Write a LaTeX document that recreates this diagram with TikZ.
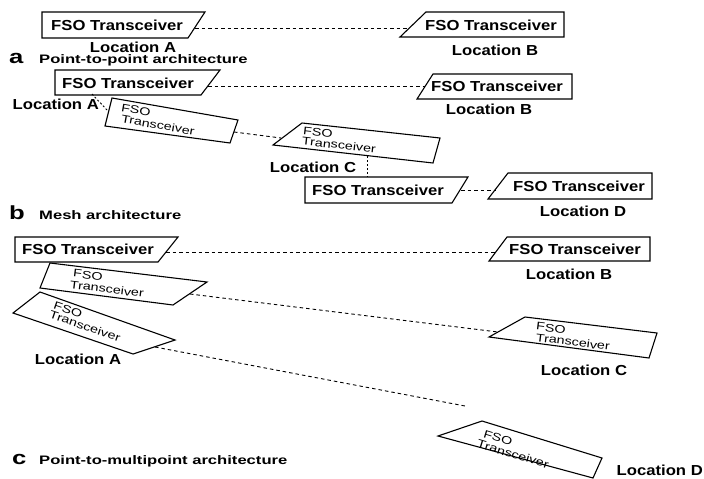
\documentclass[tikz,border=0pt]{standalone}
\usepackage{fontspec}
\setmainfont{Liberation Sans}[FakeStretch=1.15]
\newfontfamily\titlefam{Liberation Sans}[FakeStretch=1.35]
\newfontfamily\rotfam{Liberation Sans}[FakeStretch=1.3]
\begin{document}
\begin{tikzpicture}[x=1pt,y=-1pt,
  box/.style={draw=black, line width=1.1pt, line join=miter},
  link/.style={draw=black, line width=0.9pt, dash pattern=on 3.5pt off 3pt},
  dotlink/.style={draw=black, line width=0.9pt, dash pattern=on 2pt off 2pt},
  boxtext/.style={font=\fontsize{14.5}{16}\selectfont\bfseries, inner sep=0pt},
  loc/.style={font=\fontsize{14.5}{16}\selectfont\bfseries, inner sep=0pt},
  rottext/.style={font=\rotfam\fontsize{11}{13}\selectfont, inner sep=0pt},
  letter/.style={font=\titlefam\fontsize{19}{20}\selectfont\bfseries, inner sep=0pt, anchor=base west},
  title/.style={font=\titlefam\fontsize{12.3}{14}\selectfont\bfseries, inner sep=0pt, anchor=base west}]
\useasboundingbox[fill=white] (0,0) rectangle (704,479);

% ---------------- panel a ----------------
\draw[box] (42,12) -- (205,12) -- (188,38) -- (42,38) -- cycle;
\node[boxtext] (aAt) at (117,25) {FSO Transceiver};
\draw[box] (426,12) -- (564,12) -- (564,37) -- (400,37) -- cycle;
\node[boxtext] (aBt) at (491,25) {FSO Transceiver};
\coordinate (aAr) at (195,28);
\coordinate (aBl) at (409,28);
\draw[link] (aAr) -- (aBl);
\node[loc] (aLA) at (133,47) {Location A};
\node[loc] (aLB) at (495,50) {Location B};
\node[letter] (aL) at (9,63) {a};
\node[title] (aT) at (39,63) {Point-to-point architecture};

% ---------------- panel b ----------------
\draw[box] (55,70) -- (220,70) -- (201,95) -- (55,95) -- cycle;
\node[boxtext] (bAt) at (128,83) {FSO Transceiver};
\draw[box] (433,74) -- (572,74) -- (572,99) -- (417,99) -- cycle;
\node[boxtext] (bBt) at (497,86) {FSO Transceiver};
\coordinate (bAr) at (208,86);
\coordinate (bBl) at (425,86);
\draw[link] (bAr) -- (bBl);
\node[loc] (bLB) at (489,109) {Location B};
\node[loc, anchor=east] (bLA) at (99,104) {Location A};

% rotated A'
\draw[box] (112,98) -- (238,120) -- (230,143) -- (105,126) -- cycle;
\node[rottext, rotate=-10] (bApt1) at (136,110) {FSO};
\node[rottext, rotate=-10] (bApt2) at (158,125) {Transceiver};
\coordinate (bAb) at (92,94);
\coordinate (bApl) at (107,110);
\draw[dotlink] (bAb) -- (bApl);

% C
\draw[box] (302,123) -- (440,138) -- (433,163) -- (273,145) -- cycle;
\node[rottext, rotate=-6.5] (bCt1) at (318,132) {FSO};
\node[rottext, rotate=-6.5] (bCt2) at (339,145) {Transceiver};
\coordinate (bApr) at (234,132);
\coordinate (bCl) at (281,138);
\draw[link] (bApr) -- (bCl);
\node[loc] (bLC) at (313,167) {Location C};

% D1 and D2
\draw[box] (305,177) -- (468,177) -- (452,203) -- (305,203) -- cycle;
\node[boxtext] (bD1t) at (378,190) {FSO Transceiver};
\draw[box] (508,173) -- (652,173) -- (652,199) -- (488,199) -- cycle;
\node[boxtext] (bD2t) at (579,186) {FSO Transceiver};
\coordinate (bCb) at (367,156);
\coordinate (bD1top) at (367,177);
\draw[dotlink] (bCb) -- (bD1top);
\coordinate (bD1r) at (461,190);
\coordinate (bD2l) at (496,190);
\draw[link] (bD1r) -- (bD2l);
\node[loc] (bLD) at (583,211) {Location D};
\node[letter] (bL) at (9,219) {b};
\node[title] (bT) at (39,219) {Mesh architecture};

% ---------------- panel c ----------------
\draw[box] (15,237) -- (178,237) -- (158,262) -- (15,262) -- cycle;
\node[boxtext] (cA1t) at (88,249) {FSO Transceiver};
\draw[box] (507,237) -- (650,237) -- (650,261) -- (489,261) -- cycle;
\node[boxtext] (cBt) at (575,249) {FSO Transceiver};
\coordinate (cA1r) at (166,252);
\coordinate (cBl) at (496,252);
\draw[link] (cA1r) -- (cBl);
\node[loc] (cLB) at (569,274) {Location B};

% A2 -> C
\draw[box] (50,263) -- (207,282) -- (173,305) -- (40,288) -- cycle;
\node[rottext, rotate=-7] (cA2t1) at (88,275) {FSO};
\node[rottext, rotate=-7] (cA2t2) at (107,289) {Transceiver};
\draw[box] (525,317) -- (657,333) -- (649,358) -- (489,337) -- cycle;
\node[rottext, rotate=-7] (cCt1) at (551,328) {FSO};
\node[rottext, rotate=-7] (cCt2) at (573,342) {Transceiver};
\coordinate (cA2r) at (190,294);
\coordinate (cCl) at (498,332);
\draw[link] (cA2r) -- (cCl);
\node[loc] (cLC) at (584,370) {Location C};

% A3 -> D
\draw[box] (40,292) -- (175,340) -- (133,354) -- (13,313) -- cycle;
\node[rottext, rotate=-19] (cA3t1) at (68,310) {FSO};
\node[rottext, rotate=-19] (cA3t2) at (85,326) {Transceiver};
\node[loc] (cLA) at (78,359) {Location A};
\draw[box] (482,421) -- (602,458) -- (593,478) -- (438,436) -- cycle;
\node[rottext, rotate=-17] (cDt1) at (498,438) {FSO};
\node[rottext, rotate=-17] (cDt2) at (513,454) {Transceiver};
\coordinate (cA3r) at (155,347);
\coordinate (cDend) at (465,406);
\draw[link] (cA3r) -- (cDend);
\node[loc, anchor=east] (cLD) at (703,470) {Location D};
\node[letter] (cL) at (12,464) {c};
\node[title] (cT) at (39,464) {Point-to-multipoint architecture};
\end{tikzpicture}
\end{document}
